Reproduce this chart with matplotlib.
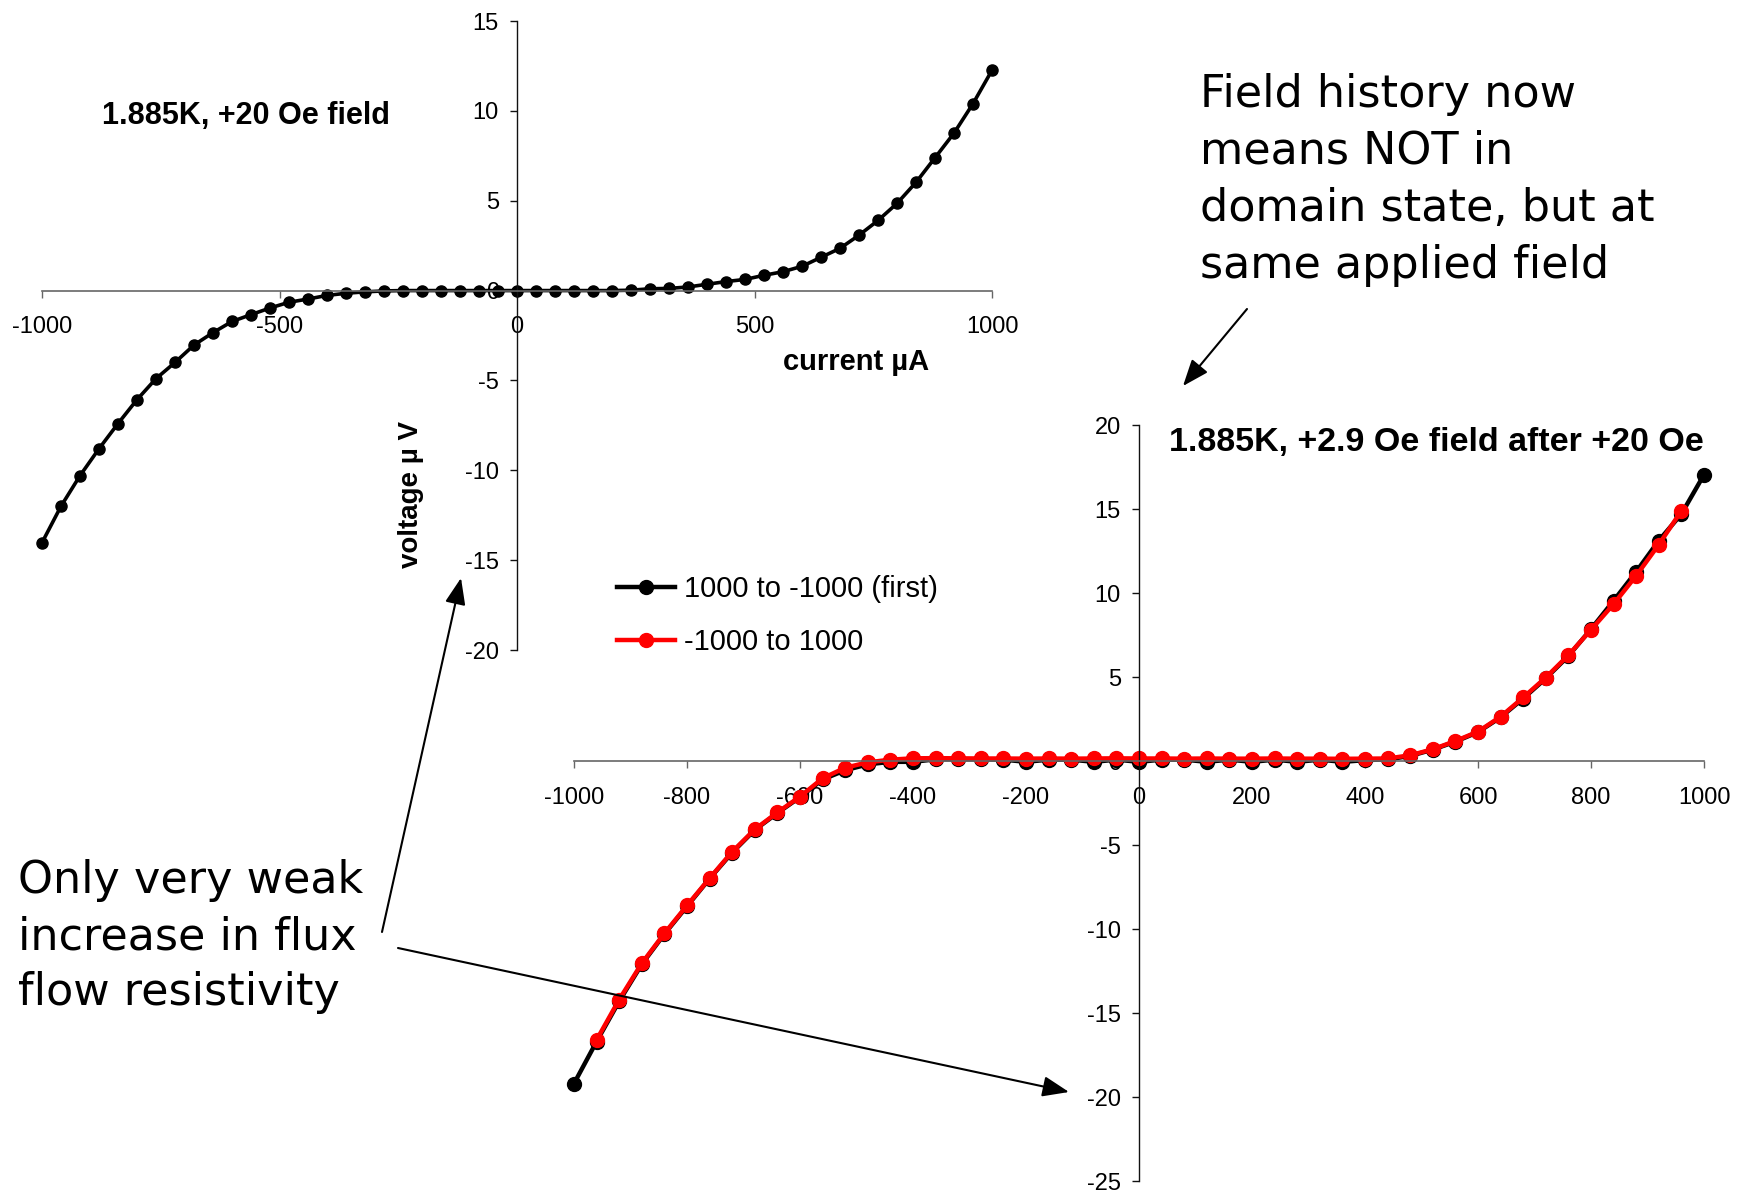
import matplotlib.pyplot as plt

W, H = 1750, 1191  # output size in pixels

# current sweep points (uA)
current = [-1000, -960, -920, -880, -840, -800, -760, -720, -680, -640,
           -600, -560, -520, -480, -440, -400, -360, -320, -280, -240,
           -200, -160, -120, -80, -40, 0, 40, 80, 120, 160,
           200, 240, 280, 320, 360, 400, 440, 480, 520, 560,
           600, 640, 680, 720, 760, 800, 840, 880, 920, 960, 1000]

# 1.885 K, +20 Oe field (uV)
voltage_20oe = [-14.03, -12.0, -10.3, -8.8, -7.4, -6.07, -4.9, -4.0, -3.03, -2.34,
                -1.72, -1.34, -0.97, -0.65, -0.47, -0.27, -0.15, -0.07, -0.02, 0.0,
                0.0, 0.0, 0.0, 0.0, 0.0, 0.0, 0.0, 0.0, 0.0, 0.0,
                0.0, 0.02, 0.1, 0.12, 0.2, 0.35, 0.5, 0.62, 0.85, 1.05,
                1.35, 1.85, 2.35, 3.08, 3.9, 4.85, 6.02, 7.39, 8.76, 10.4, 12.26]

# 1.885 K, +2.9 Oe after +20 Oe: first sweep 1000 -> -1000 (uV)
voltage_first = [-19.2, -16.7, -14.3, -12.1, -10.3, -8.65, -7.0, -5.45, -4.1, -3.1,
                 -2.15, -1.1, -0.55, -0.2, -0.05, -0.05, 0.1, 0.1, 0.1, 0.08,
                 -0.05, 0.08, 0.08, -0.05, 0.08, -0.05, 0.08, 0.08, -0.05, 0.08,
                 -0.05, 0.08, -0.05, 0.08, -0.05, 0.05, 0.1, 0.3, 0.68, 1.15,
                 1.72, 2.6, 3.72, 4.92, 6.25, 7.85, 9.54, 11.27, 13.12, 14.7, 17.04]

# return sweep -1000 -> 1000
current_return = current[1:-1]
voltage_return = [-16.6, -14.2, -12.04, -10.26, -8.6, -6.98, -5.4, -4.07, -3.06,
                  -2.12, -1.03, -0.4, -0.08, 0.08, 0.16, 0.17, 0.16, 0.15, 0.15,
                  0.14, 0.15, 0.14, 0.15, 0.16, 0.15, 0.15, 0.14, 0.15, 0.14,
                  0.14, 0.15, 0.14, 0.14, 0.13, 0.14, 0.15, 0.34, 0.7, 1.19,
                  1.75, 2.64, 3.78, 4.97, 6.3, 7.81, 9.34, 11.03, 12.88, 14.89]

x_ticks_top = [-1000, -500, 0, 500, 1000]
y_ticks_top = [-20, -15, -10, -5, 0, 5, 10, 15]
x_ticks_bottom = [-1000, -800, -600, -400, -200, 0, 200, 400, 600, 800, 1000]
y_ticks_bottom = [-25, -20, -15, -10, -5, 0, 5, 10, 15, 20]

CHART_FONT = "Liberation Sans"
NOTE_FONT = "DejaVu Sans"

plt.rcParams["axes.unicode_minus"] = False


def fig_xy(px, py):
    # pixel position measured from the top-left corner -> figure fraction
    return px / W, 1 - py / H


def centered_axes(ax, xlim, ylim, xticks, yticks):
    ax.set_xlim(*xlim)
    ax.set_ylim(*ylim)
    ax.patch.set_visible(False)
    ax.spines["left"].set_position(("data", 0))
    ax.spines["bottom"].set_position(("data", 0))
    ax.spines["top"].set_visible(False)
    ax.spines["right"].set_visible(False)
    ax.spines["left"].set_color("#111111")
    ax.spines["bottom"].set_color("#666666")
    ax.spines["left"].set_linewidth(1.0)
    ax.spines["bottom"].set_linewidth(1.2)
    ax.set_xticks(xticks)
    ax.set_yticks(yticks)
    ax.tick_params(axis="x", direction="out", length=5, width=1.0,
                   color="#666666", pad=13.5, labelsize=17)
    ax.tick_params(axis="y", direction="out", length=5, width=1.0,
                   color="#111111", pad=8, labelsize=17)
    for lab in ax.get_xticklabels() + ax.get_yticklabels():
        lab.set_fontfamily(CHART_FONT)


fig = plt.figure(figsize=(W / 100, H / 100), dpi=100)

# upper chart: +20 Oe
ax1 = fig.add_axes([42 / W, 1 - 650 / H, 950 / W, 629 / H])
centered_axes(ax1, (-1000, 1000), (-20, 15), x_ticks_top, y_ticks_top)
ax1.plot(current, voltage_20oe, color="black", lw=2.6, marker="o",
         markersize=8, clip_on=False)

# lower chart: +2.9 Oe after +20 Oe
ax2 = fig.add_axes([574 / W, 1 - 1181 / H, 1130 / W, 756 / H])
centered_axes(ax2, (-1000, 1000), (-25, 20), x_ticks_bottom, y_ticks_bottom)
l1, = ax2.plot(current, voltage_first, color="black", lw=3.2, marker="o",
               markersize=10, clip_on=False, label="1000 to -1000 (first)")
l2, = ax2.plot(current_return, voltage_return, color="#ff0000", lw=3.2,
               marker="o", markersize=10, clip_on=False, label="-1000 to 1000")

fig.legend(handles=[l1, l2], loc="upper left",
           bbox_to_anchor=fig_xy(617, 575), frameon=False, borderpad=0,
           borderaxespad=0, handlelength=2.0, handletextpad=0.3,
           labelspacing=0.85, prop={"family": CHART_FONT, "size": 21})

# chart titles and axis labels
fig.text(*fig_xy(246, 116), "1.885K, +20 Oe field", ha="center", va="center",
         fontsize=22, fontweight="bold", family=CHART_FONT)
fig.text(*fig_xy(1436, 443), "1.885K, +2.9 Oe field after +20 Oe",
         ha="center", va="center", fontsize=24.5, fontweight="bold",
         family=CHART_FONT)
fig.text(*fig_xy(856, 362), "current \u00b5A", ha="center", va="center",
         fontsize=21, fontweight="bold", family=CHART_FONT)
fig.text(*fig_xy(411, 494), "voltage \u00b5 V", ha="center", va="center",
         rotation=90, fontsize=20, fontweight="bold", family=CHART_FONT)

# notes
note_right = ["Field history now", "means NOT in",
              "domain state, but at", "same applied field"]
for i, line in enumerate(note_right):
    fig.text(*fig_xy(1200, 107 + 57 * i), line, ha="left", va="baseline",
             fontsize=32, family=NOTE_FONT)

note_left = ["Only very weak", "increase in flux", "flow resistivity"]
for i, line in enumerate(note_left):
    fig.text(*fig_xy(18, 893 + 56 * i), line, ha="left", va="baseline",
             fontsize=32, family=NOTE_FONT)

arrow_kw = dict(arrowstyle="-|>,head_length=0.9,head_width=0.35",
                color="black", lw=1.5, mutation_scale=18,
                shrinkA=0, shrinkB=0)
for (x0, y0), (x1, y1) in [((1247, 309), (1183, 386)),
                           ((382, 932), (461, 578)),
                           ((398, 948), (1069, 1092))]:
    fig.add_artist(plt.matplotlib.patches.FancyArrowPatch(
        fig_xy(x0, y0), fig_xy(x1, y1), transform=fig.transFigure, **arrow_kw))

fig.savefig("out.png", dpi=100)
